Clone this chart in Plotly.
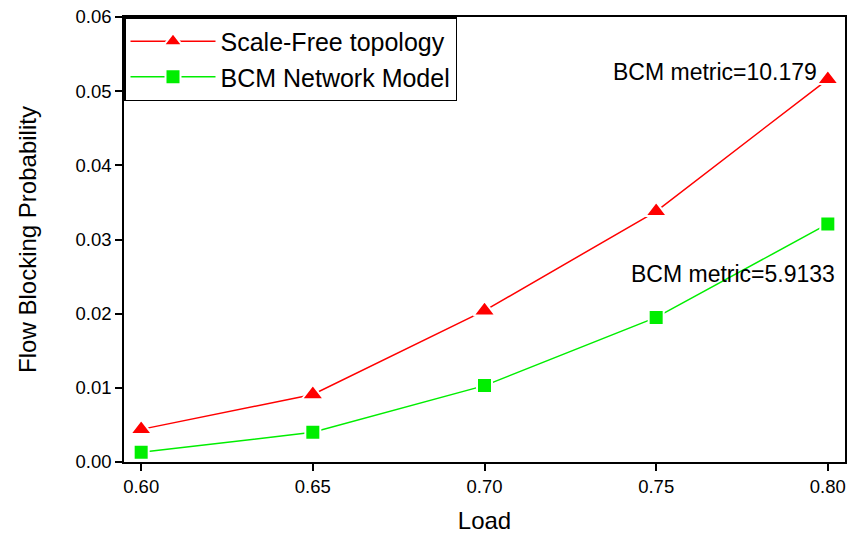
import plotly.graph_objects as go

load = [0.60, 0.65, 0.70, 0.75, 0.80]
scale_free = [0.0044, 0.0091, 0.0204, 0.0338, 0.0516]
bcm_model = [0.0013, 0.0040, 0.0103, 0.0195, 0.0321]

FONT = "Arial, Liberation Sans, sans-serif"

fig = go.Figure()

fig.add_trace(go.Scatter(
    x=load, y=scale_free,
    mode="lines+markers",
    name="Scale-Free topology",
    line=dict(color="#ff0000", width=1.5),
    marker=dict(symbol="triangle-up", size=19, color="#ff0000",
                line=dict(color="white", width=2)),
))

fig.add_trace(go.Scatter(
    x=load, y=bcm_model,
    mode="lines+markers",
    name="BCM Network Model",
    line=dict(color="#00ee00", width=1.5),
    marker=dict(symbol="square", size=15, color="#00ee00",
                line=dict(color="white", width=2)),
))

fig.add_annotation(x=0.80, y=scale_free[-1], text="BCM metric=10.179",
                   xanchor="right", yanchor="middle", xshift=-9, yshift=7,
                   showarrow=False, font=dict(size=23, color="black", family=FONT))
fig.add_annotation(x=0.80, y=bcm_model[-1], text="BCM metric=5.9133",
                   xanchor="right", yanchor="middle", xshift=9, yshift=-50,
                   showarrow=False, font=dict(size=23, color="black", family=FONT))

fig.update_layout(
    width=850, height=535,
    paper_bgcolor="white",
    plot_bgcolor="white",
    margin=dict(l=124, r=3, t=17, b=73),
    font=dict(family=FONT, color="black", size=18),
    showlegend=True,
    legend=dict(
        x=0, y=1, xanchor="left", yanchor="top",
        bordercolor="black", borderwidth=1.5, bgcolor="white",
        font=dict(size=25, family=FONT),
        itemwidth=85,
    ),
    xaxis=dict(
        title=dict(text="Load", font=dict(size=24), standoff=16),
        range=[0.595, 0.805],
        tickvals=load,
        ticktext=[f"{v:.2f}" for v in load],
        ticks="outside", ticklen=7, tickwidth=1.5, tickcolor="black",
        showline=True, linecolor="black", linewidth=1.5, mirror=True,
        showgrid=False, zeroline=False,
        tickfont=dict(size=18.5),
    ),
    yaxis=dict(
        title=dict(text="Flow Blocking Probability", font=dict(size=24), standoff=32),
        range=[0, 0.06],
        dtick=0.01,
        tickformat=".2f",
        ticks="outside", ticklen=7, tickwidth=1.5, tickcolor="black",
        showline=True, linecolor="black", linewidth=1.5, mirror=True,
        showgrid=False, zeroline=False,
        tickfont=dict(size=18.5),
    ),
)

fig.write_html("out.html", config={"displayModeBar": False},
               post_script="document.body.style.margin='0';")
